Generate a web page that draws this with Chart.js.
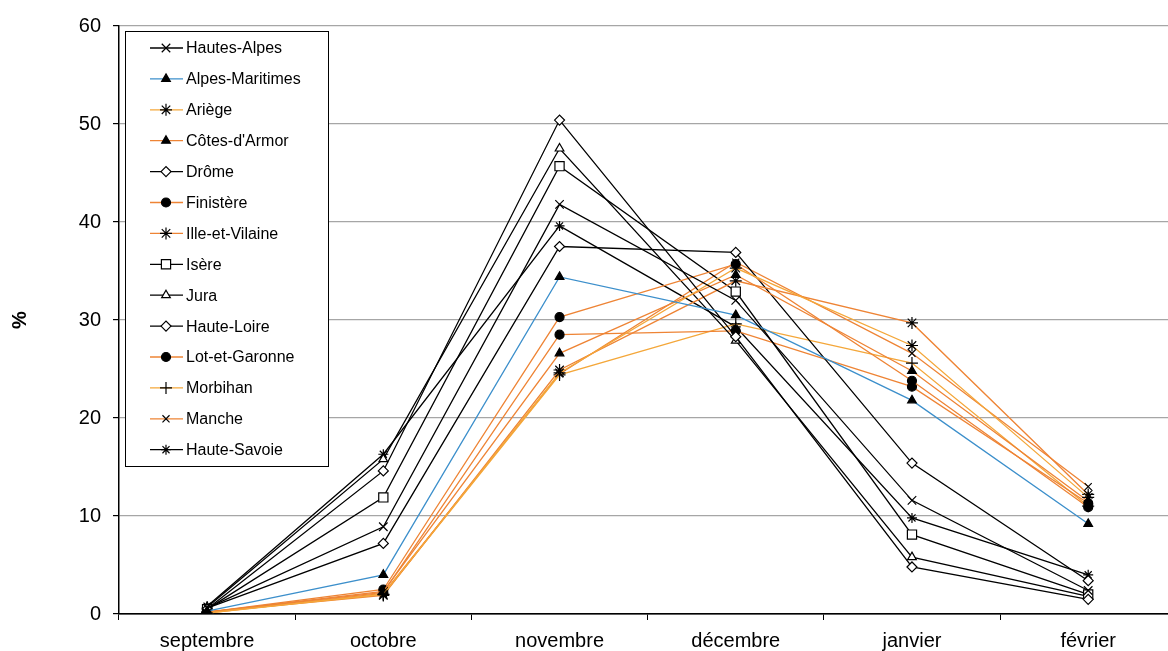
<!DOCTYPE html>
<html lang="fr">
<head>
<meta charset="utf-8">
<title>Départements - %</title>
<script src="https://cdn.jsdelivr.net/npm/chart.js@4/dist/chart.umd.min.js"></script>
<style>
    html, body { margin: 0; padding: 0; background: #fff; overflow: hidden; width: 1168px; height: 651px; }
    /* le graphique d'origine est recadré à droite : on dessine plus large que la fenêtre */
    #wrap { position: absolute; left: 0; top: 0; width: 1184px; height: 651px; }
    #departementsChart { width: 1184px; height: 651px; }
</style>
</head>
<body>
<div id="wrap"><canvas id="departementsChart" width="1184" height="651"></canvas></div>
<script>
// Mois (axe des x)
const mois = ['septembre', 'octobre', 'novembre', 'décembre', 'janvier', 'février'];
const yTicks = [0, 10, 20, 30, 40, 50, 60];

// Valeurs (%)
const hautesAlpes    = [0.6, 8.9, 41.8, 32.0, 11.6, 2.4];
const alpesMaritimes = [0.3, 4.0, 34.4, 30.5, 21.8, 9.2];
const ariege         = [0.1, 2.0, 24.6, 35.3, 27.4, 11.9];
const cotesArmor     = [0.2, 2.3, 26.6, 34.6, 24.8, 11.5];
const drome          = [0.5, 14.6, 50.4, 28.3, 4.8, 1.5];
const finistere      = [0.2, 2.5, 30.3, 35.7, 23.8, 10.9];
const illeVilaine    = [0.2, 1.9, 24.9, 34.0, 29.7, 12.2];
const isere          = [0.5, 11.9, 45.7, 32.9, 8.1, 2.0];
const jura           = [0.7, 15.8, 47.5, 27.9, 5.8, 1.8];
const hauteLoire     = [0.6, 7.2, 37.5, 36.9, 15.4, 3.4];
const lotGaronne     = [0.2, 2.2, 28.5, 28.9, 23.2, 11.3];
const morbihan       = [0.2, 2.0, 24.4, 29.6, 25.6, 11.0];
const manche         = [0.1, 2.1, 24.5, 35.9, 26.6, 13.0];
const hauteSavoie    = [0.8, 16.3, 39.6, 29.3, 9.8, 4.0];

const NOIR = '#000000';
const BLEU = '#3C8FCB';
const ORANGE = '#EE8435';
const JAUNE = '#F4A73A';
const FONT = 'Liberation Sans, Arial, sans-serif';

// Fabrique une série (style Excel)
function serie(label, data, couleur, style, rempli, rayon) {
    return {
        label: label,
        data: data,
        borderColor: couleur,
        borderWidth: 1.3,
        tension: 0,
        fill: false,
        pointStyle: style,
        pointRadius: rayon || 5,
        pointHoverRadius: rayon || 5,
        pointBorderColor: NOIR,
        pointBorderWidth: 1.2,
        pointBackgroundColor: rempli ? NOIR : '#ffffff'
    };
}

const datasets = [
    serie('Hautes-Alpes', hautesAlpes, NOIR, 'crossRot', false, 6),
    serie('Alpes-Maritimes', alpesMaritimes, BLEU, 'triangle', true),
    serie('Ariège', ariege, JAUNE, 'star', false, 6),
    serie("Côtes-d'Armor", cotesArmor, ORANGE, 'triangle', true),
    serie('Drôme', drome, NOIR, 'rectRot', false),
    serie('Finistère', finistere, ORANGE, 'circle', true, 4.5),
    serie('Ille-et-Vilaine', illeVilaine, ORANGE, 'star', false, 6),
    serie('Isère', isere, NOIR, 'rect', false, 6.5),
    serie('Jura', jura, NOIR, 'triangle', false),
    serie('Haute-Loire', hauteLoire, NOIR, 'rectRot', false),
    serie('Lot-et-Garonne', lotGaronne, ORANGE, 'circle', true, 4.5),
    serie('Morbihan', morbihan, JAUNE, 'cross', false, 6),
    serie('Manche', manche, ORANGE, 'crossRot', false, 5),
    serie('Haute-Savoie', hauteSavoie, NOIR, 'star', false, 5)
];

// Légende encadrée dans la zone de tracé (comme dans Excel)
const legendeEncadree = {
    id: 'legendeEncadree',
    afterDraw(chart) {
        const ctx = chart.ctx;
        const area = chart.chartArea;
        const x0 = area.left + 6;
        const y0 = area.top + 5;
        const w = 203;
        const h = 435;
        const pas = 30.9;

        ctx.save();
        ctx.fillStyle = '#ffffff';
        ctx.fillRect(x0, y0, w, h);
        ctx.strokeStyle = '#000000';
        ctx.lineWidth = 1;
        ctx.strokeRect(x0 + 0.5, y0 + 0.5, w, h);

        ctx.font = '16px ' + FONT;
        ctx.textBaseline = 'middle';
        ctx.textAlign = 'left';

        chart.data.datasets.forEach(function(ds, i) {
            const y = y0 + 17 + i * pas;
            ctx.strokeStyle = ds.borderColor;
            ctx.lineWidth = 1.3;
            ctx.beginPath();
            ctx.moveTo(x0 + 25, y);
            ctx.lineTo(x0 + 58, y);
            ctx.stroke();

            ctx.strokeStyle = ds.pointBorderColor;
            ctx.fillStyle = ds.pointBackgroundColor;
            ctx.lineWidth = ds.pointBorderWidth;
            Chart.helpers.drawPoint(ctx, {
                pointStyle: ds.pointStyle,
                radius: ds.pointRadius,
                rotation: 0,
                borderWidth: ds.pointBorderWidth
            }, x0 + 41, y);

            ctx.fillStyle = '#000000';
            ctx.fillText(ds.label, x0 + 61, y + 1);
        });
        ctx.restore();
    }
};

document.addEventListener('DOMContentLoaded', function() {
    const el = document.getElementById('departementsChart');

    new Chart(el, {
        type: 'line',
        data: {
            labels: mois,
            datasets: datasets
        },
        options: {
            responsive: false,
            animation: false,
            devicePixelRatio: 1,
            layout: {
                padding: { top: 26, right: 0, bottom: 0, left: 0 }
            },
            scales: {
                x: {
                    type: 'category',
                    offset: true,
                    afterFit: function(scale) { scale.height = 37; },
                    grid: {
                        display: true,
                        offset: true,
                        drawOnChartArea: false,
                        drawTicks: true,
                        tickLength: 6,
                        color: '#000000'
                    },
                    border: { display: true, color: '#000000', width: 1.5 },
                    ticks: {
                        color: '#000000',
                        padding: 9,
                        maxRotation: 0,
                        autoSkip: false,
                        font: { family: FONT, size: 20 }
                    }
                },
                y: {
                    min: 0,
                    max: 60,
                    afterFit: function(scale) { scale.width = 119; },
                    afterBuildTicks: function(scale) {
                        scale.ticks = yTicks.map(v => ({ value: v }));
                    },
                    grid: {
                        color: function(c) { return c.tick && c.tick.value === 0 ? '#000000' : '#A6A6A6'; },
                        lineWidth: 1.2,
                        drawTicks: true,
                        tickLength: 6,
                        tickColor: '#000000'
                    },
                    border: { display: true, color: '#000000', width: 1.5 },
                    ticks: {
                        color: '#000000',
                        padding: 12,
                        font: { family: FONT, size: 20 }
                    },
                    title: {
                        display: true,
                        text: '%',
                        color: '#000000',
                        padding: { top: 8, bottom: 0 },
                        font: { family: FONT, size: 20, weight: 'bold' }
                    }
                }
            },
            plugins: {
                legend: { display: false },
                tooltip: { enabled: false }
            }
        },
        plugins: [legendeEncadree]
    });
});
</script>
</body>
</html>
